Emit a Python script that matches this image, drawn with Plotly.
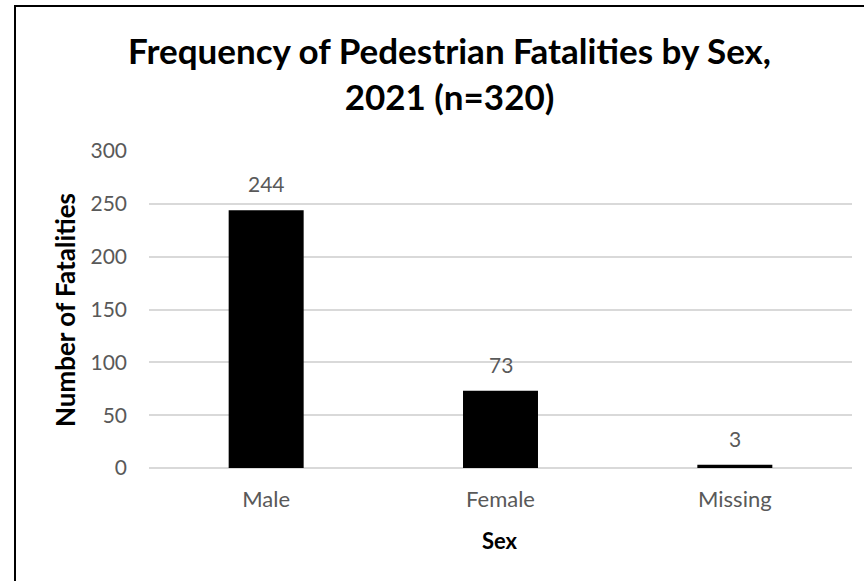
import plotly.graph_objects as go

# Pedestrian fatalities by sex, 2021
categories = ["Male", "Female", "Missing"]
fatalities = [244, 73, 3]
y_ticks = [0, 50, 100, 150, 200, 250, 300]

W, H = 864, 581
L, R, T, B = 149, 12, 151, 113

FONT = "Lato"
TICK_COLOR = "#595959"
GRID_COLOR = "#d9d9d9"

fig = go.Figure(
    go.Bar(
        x=categories,
        y=fatalities,
        marker=dict(color="black", line=dict(width=0)),
        hoverinfo="x+y",
    )
)

# value labels above each bar
for cat, val in zip(categories, fatalities):
    fig.add_annotation(
        x=cat, y=val, text=str(val),
        xref="x", yref="y",
        yanchor="bottom", yshift=12,
        font=dict(family=FONT, size=21, color=TICK_COLOR),
        showarrow=False,
    )

px_to_x = lambda px: (px - L) / (W - L - R)
px_to_y = lambda py: (H - B - py) / (H - T - B)

# chart-area frame
fig.add_shape(
    type="rect", xref="paper", yref="paper",
    x0=px_to_x(15), x1=px_to_x(870), y0=px_to_y(590), y1=px_to_y(6),
    line=dict(color="black", width=2), fillcolor="rgba(0,0,0,0)", layer="above",
)

# chart title
fig.add_annotation(
    text="<b>Frequency of Pedestrian Fatalities by Sex,<br>2021 (n=320)</b>",
    font=dict(family=FONT, size=35, color="black"),
    xref="paper", yref="paper",
    x=px_to_x(449), y=px_to_y(73),
    xanchor="center", yanchor="middle", align="center",
    showarrow=False,
)

# x axis title
fig.add_annotation(
    text="<b>Sex</b>",
    font=dict(family=FONT, size=22, color="black"),
    xref="paper", yref="paper",
    x=px_to_x(500), y=px_to_y(540),
    xanchor="center", yanchor="middle",
    showarrow=False,
)

# y axis title
fig.add_annotation(
    text="<b>Number of Fatalities</b>",
    font=dict(family=FONT, size=26, color="black"),
    xref="paper", yref="paper",
    x=px_to_x(65), y=px_to_y(310),
    xanchor="center", yanchor="middle", textangle=-90,
    showarrow=False,
)

fig.update_layout(
    width=W, height=H,
    margin=dict(l=L, r=R, t=T, b=B, autoexpand=False),
    paper_bgcolor="white", plot_bgcolor="white",
    showlegend=False,
    bargap=0.68,
    xaxis=dict(
        showline=False, showgrid=False, ticks="",
        ticklabelstandoff=16,
        tickfont=dict(family=FONT, size=22, color=TICK_COLOR),
    ),
    yaxis=dict(
        range=[0, 300], tickvals=y_ticks,
        showgrid=True, gridcolor=GRID_COLOR, gridwidth=1.5,
        zeroline=True, zerolinecolor=GRID_COLOR, zerolinewidth=1.5,
        showline=False, ticks="",
        ticklabelstandoff=21,
        tickfont=dict(family=FONT, size=21, color=TICK_COLOR),
    ),
)

fig.write_html("out.html")
